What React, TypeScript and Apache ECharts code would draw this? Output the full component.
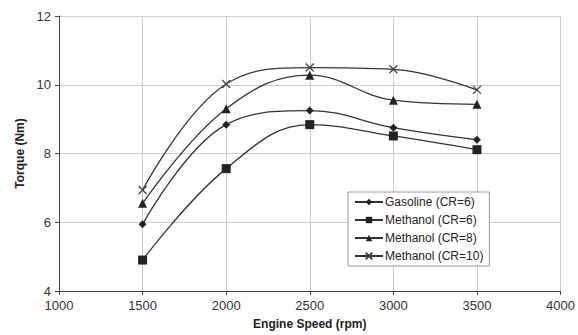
import React, { useEffect, useRef } from "react";
import * as echarts from "echarts";

const speeds = [1500, 2000, 2500, 3000, 3500];
const gasolineCR6 = [5.94, 8.84, 9.25, 8.75, 8.4];
const methanolCR6 = [4.9, 7.56, 8.84, 8.51, 8.11];
const methanolCR8 = [6.55, 9.3, 10.28, 9.55, 9.43];
const methanolCR10 = [6.94, 10.02, 10.5, 10.45, 9.85];

const seriesNames = ["Gasoline (CR=6)", "Methanol (CR=6)", "Methanol (CR=8)", "Methanol (CR=10)"];
const seriesData = [gasolineCR6, methanolCR6, methanolCR8, methanolCR10];
const symbols = ["diamond", "rect", "triangle", "path://M0,0L10,10M10,0L0,10"];
const symbolSizes = [8, 9, 9, 8];

export default function App() {
  const ref = useRef<HTMLDivElement>(null);
  useEffect(() => {
    const chart = echarts.init(ref.current!, null, { renderer: "svg" });
    const font = "'Liberation Sans', Arial, sans-serif";
    chart.setOption({
      animation: false,
      backgroundColor: "#fff",
      textStyle: { fontFamily: font },
      grid: { left: 59, right: 15, top: 16, bottom: 43 },
      xAxis: {
        type: "value",
        min: 1000,
        max: 4000,
        interval: 500,
        name: "Engine Speed (rpm)",
        nameLocation: "middle",
        nameGap: 27,
        nameTextStyle: { fontFamily: font, fontWeight: "bold", fontSize: 12, color: "#222" },
        axisLine: { show: true, lineStyle: { color: "#444", width: 1 } },
        axisTick: { show: true, length: 4, lineStyle: { color: "#444" } },
        axisLabel: { fontFamily: font, fontSize: 13, color: "#333", margin: 8, formatter: (v: number) => String(v) },
        splitLine: { show: true, lineStyle: { color: "#ccc", width: 1 } },
      },
      yAxis: {
        type: "value",
        min: 4,
        max: 12,
        interval: 2,
        name: "Torque (Nm)",
        nameLocation: "middle",
        nameGap: 33,
        nameTextStyle: { fontFamily: font, fontWeight: "bold", fontSize: 12, color: "#222" },
        axisLine: { show: true, lineStyle: { color: "#444", width: 1 } },
        axisTick: { show: true, length: 4, lineStyle: { color: "#444" } },
        axisLabel: { fontFamily: font, fontSize: 13, color: "#333", margin: 8 },
        splitLine: { show: true, lineStyle: { color: "#ccc", width: 1 } },
      },
      legend: {
        left: 348,
        top: 192,
        orient: "vertical",
        itemGap: 6,
        itemWidth: 28,
        itemHeight: 8,
        padding: [4, 6, 4, 6],
        borderColor: "#999",
        borderWidth: 1,
        backgroundColor: "#fff",
        textStyle: { fontFamily: font, fontSize: 12, color: "#222", padding: [0, 0, 0, -3] },
        data: seriesNames,
      },
      series: seriesNames.map((name, i) => ({
        name,
        type: "line",
        smooth: 0.4,
        data: speeds.map((s, j) => [s, seriesData[i][j]]),
        symbol: symbols[i],
        symbolSize: symbolSizes[i],
        showAllSymbol: true,
        lineStyle: { color: "#333", width: 1.3 },
        itemStyle:
          i === 3
            ? { color: "#444", borderColor: "#444", borderWidth: 1.3 }
            : { color: "#222", borderColor: "#222", borderWidth: 0 },
        z: 3,
      })),
    });
    return () => chart.dispose();
  }, []);
  return <div ref={ref} style={{ width: 578, height: 335, position: "absolute", left: 0, top: 0 }} />;
}
